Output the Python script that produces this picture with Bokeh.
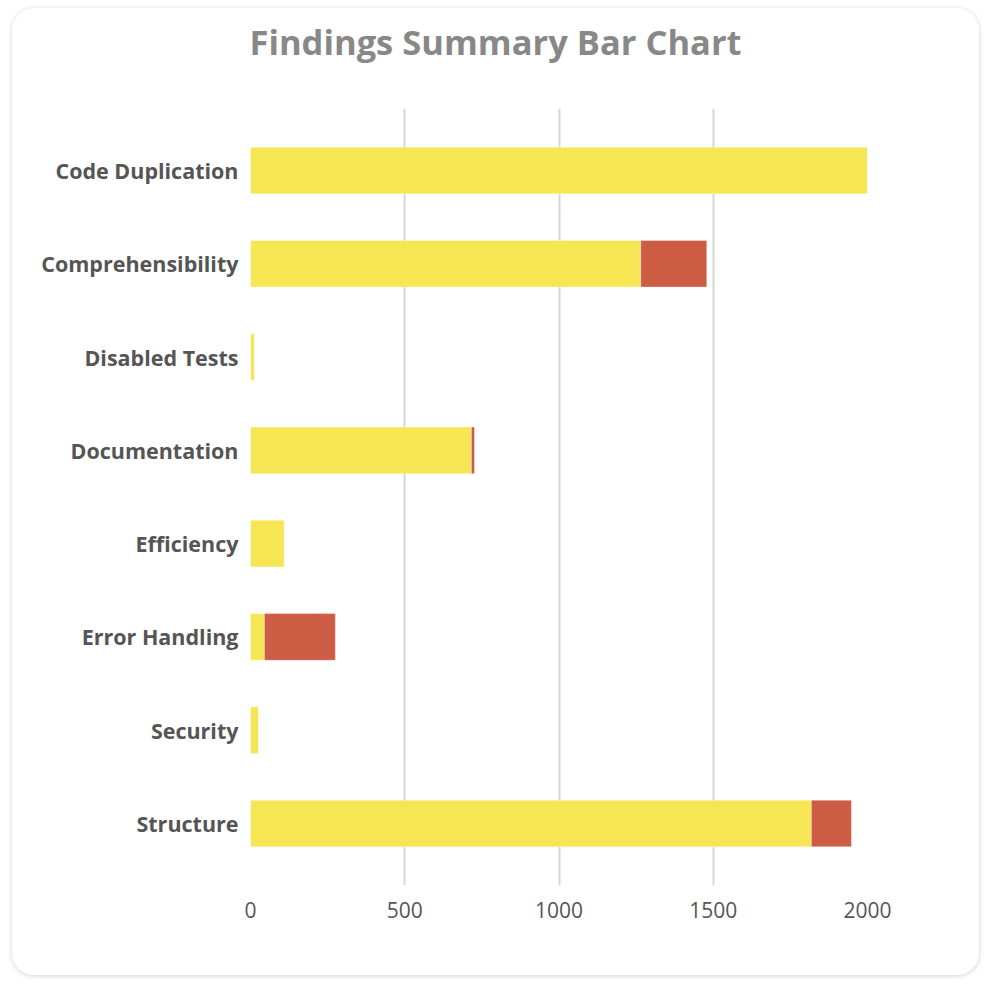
from bokeh.plotting import figure
from bokeh.models import FactorRange, Range1d, FixedTicker, Div, ColumnDataSource
from bokeh.layouts import column
from bokeh.embed import file_html
from bokeh.resources import INLINE

categories = ["Code Duplication", "Comprehensibility", "Disabled Tests", "Documentation",
              "Efficiency", "Error Handling", "Security", "Structure"]
yellow_findings = [2000, 1265, 13, 716, 110, 45, 26, 1818]
red_findings = [0, 214, 0, 10, 0, 230, 0, 130]
x_ticks = [0, 500, 1000, 1500, 2000]
title_text = "Findings Summary Bar Chart"

source = ColumnDataSource(dict(category=categories, yellow=yellow_findings, red=red_findings))

p = figure(
    width=967, height=887,
    y_range=FactorRange(factors=list(reversed(categories)), range_padding=0.041),
    x_range=Range1d(0, 2000),
    output_backend="svg", toolbar_location=None,
    min_border_left=238, min_border_right=112, min_border_top=20, min_border_bottom=90,
    margin=0,
)
p.hbar_stack(["yellow", "red"], y="category", height=0.5, source=source,
             color=["#F7E654", "#CD5C45"], line_color="white", line_alpha=0.35, line_width=1)

p.background_fill_color = "white"
p.border_fill_color = "white"
p.outline_line_color = None

p.ygrid.grid_line_color = None
p.xgrid.ticker = FixedTicker(ticks=x_ticks[1:])
p.xgrid.grid_line_color = "#d6d6d6"
p.xgrid.grid_line_width = 2

p.xaxis.ticker = FixedTicker(ticks=x_ticks)
for ax in (p.xaxis[0], p.yaxis[0]):
    ax.axis_line_color = None
    ax.major_tick_line_color = None
    ax.minor_tick_line_color = None
    ax.major_label_text_font = "Open Sans"
    ax.major_label_text_color = "#555555"
p.xaxis.major_label_text_font_size = "21px"
p.xaxis.major_label_standoff = 10
p.yaxis.major_label_text_font_size = "21.5px"
p.yaxis.major_label_text_font_style = "bold"
p.yaxis.major_label_standoff = 6

title = Div(text=title_text, width=967, height=80, margin=0,
            styles={"font-family": "Open Sans", "font-size": "34.5px", "font-weight": "bold",
                    "color": "#888888", "text-align": "center", "line-height": "68px"})

layout = column(title, p, margin=0,
                styles={"background-color": "white", "border-radius": "22px",
                        "box-shadow": "0 1px 5px rgba(0,0,0,0.18)",
                        "margin": "8px 0 0 12px", "overflow": "hidden"})

html = file_html(layout, INLINE)
html = html.replace("<body>", '<body style="background-color:#f8f8f8;">', 1)
open("out.html", "w").write(html)
